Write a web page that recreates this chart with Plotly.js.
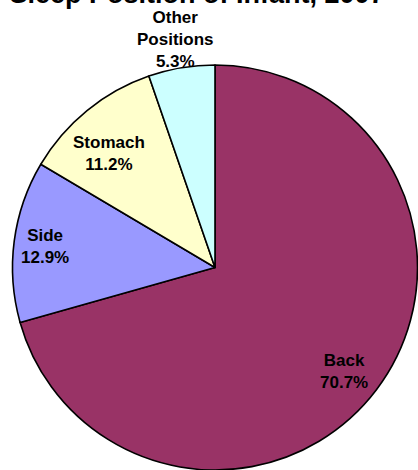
<!DOCTYPE html>
<html>
<head>
<meta charset="utf-8">
<script src="https://cdn.plot.ly/plotly-3.0.1.min.js"></script>
<style>
html,body{margin:0;padding:0;background:#fff;overflow:hidden;}
#chart{width:418px;height:470px;}
</style>
</head>
<body>
<div id="chart"></div>
<script>
const categories = ["Back", "Side", "Stomach", "Other<br>Positions"];
const values = [70.7, 12.9, 11.2, 5.3];
const sliceColors = ["#993366", "#9999FF", "#FFFFCC", "#CCFFFF"];
const titleText = "Sleep Position of Infant, 2007";

// label placement (style): radius factor and angle shift (deg) per slice
const labelRadius = [0.817, 0.846, 0.767, 1.143];
const labelAngleShift = [1.9, -0.5, -3.6, -0.4];

const W = 418, H = 470;
const M = {l: 12, r: 0, t: 65, b: 0};
const pw = W - M.l - M.r, ph = H - M.t - M.b;
const rPx = Math.min(pw, ph) / 2;
const FONT = "Liberation Sans, Arial, sans-serif";

const total = values.reduce((a, b) => a + b, 0);
const annotations = [];
let cum = 0;
values.forEach((v, i) => {
  const mid = (cum + v / 2) / total * 360 + labelAngleShift[i];
  cum += v;
  const a = mid * Math.PI / 180;
  const k = labelRadius[i];
  annotations.push({
    xref: "paper", yref: "paper",
    x: 0.5 + k * rPx * Math.sin(a) / pw,
    y: 0.5 + k * rPx * Math.cos(a) / ph,
    xanchor: "center", yanchor: "middle",
    text: "<b>" + categories[i] + "<br>" + v.toFixed(1) + "%</b>",
    showarrow: false,
    font: {family: FONT, size: 17, color: "#000"}
  });
});

const trace = {
  type: "pie",
  labels: categories,
  values: values,
  sort: false,
  direction: "clockwise",
  rotation: 0,
  marker: {colors: sliceColors, line: {color: "#000", width: 1.6}},
  textinfo: "none",
  hoverinfo: "none",
  showlegend: false
};

const layout = {
  width: W,
  height: H,
  margin: M,
  paper_bgcolor: "#fff",
  title: {
    text: "<b>" + titleText + "</b>",
    font: {family: FONT, size: 27, color: "#000"},
    xref: "container", yref: "container",
    x: 197 / W, xanchor: "center",
    y: 1 - 3 / H, yanchor: "bottom"
  },
  annotations: annotations,
  showlegend: false
};

Plotly.newPlot("chart", [trace], layout, {staticPlot: true});
</script>
</body>
</html>
